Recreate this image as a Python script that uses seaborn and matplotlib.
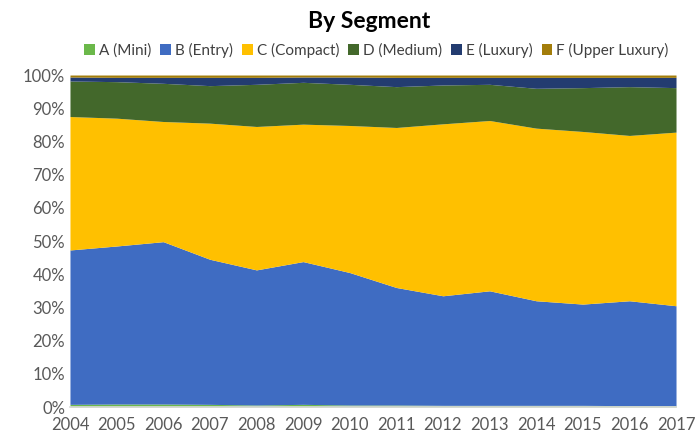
import seaborn as sns
import numpy as np
import pandas as pd
import matplotlib
matplotlib.use("Agg")
import matplotlib.pyplot as plt
from matplotlib.patches import Patch

years = list(range(2004, 2018))
segments = ["A (Mini)", "B (Entry)", "C (Compact)", "D (Medium)", "E (Luxury)", "F (Upper Luxury)"]

# shares in percent
a_mini = [0.8, 0.9, 0.9, 0.8, 0.6, 0.8, 0.6, 0.6, 0.5, 0.5, 0.5, 0.5, 0.4, 0.4]
b_entry = [46.5, 47.6, 48.9, 43.7, 40.7, 43.0, 39.9, 35.4, 33.0, 34.5, 31.5, 30.5, 31.6, 30.1]
c_compact = [40.2, 38.5, 36.2, 41.0, 43.2, 41.4, 44.3, 48.2, 51.8, 51.3, 52.0, 52.0, 49.8, 52.3]
d_medium = [10.7, 11.0, 11.5, 11.3, 12.7, 12.6, 12.4, 12.3, 11.7, 10.9, 12.0, 13.2, 14.7, 13.4]
e_luxury = [1.2, 1.3, 1.8, 2.5, 2.1, 1.6, 2.2, 2.8, 2.3, 2.1, 3.3, 3.1, 2.8, 3.1]
f_upper = [0.6, 0.7, 0.7, 0.7, 0.7, 0.6, 0.6, 0.7, 0.7, 0.7, 0.7, 0.7, 0.7, 0.7]

colors = ["#6bb84a", "#3f6cc2", "#ffc000", "#43682b", "#233c70", "#a37d0a"]

df = pd.DataFrame({"year": years, segments[0]: a_mini, segments[1]: b_entry,
                   segments[2]: c_compact, segments[3]: d_medium,
                   segments[4]: e_luxury, segments[5]: f_upper})
vals = df[segments].values
vals = vals / vals.sum(axis=1, keepdims=True) * 100

sns.set_theme(style="white")
plt.rcParams['font.family'] = ['Lato', 'DejaVu Sans']

fig = plt.figure(figsize=(6.97, 4.4), dpi=100)
ax = fig.add_axes([0.1004, 0.075, 0.8695, 0.7545])

ax.stackplot(df["year"], vals.T, colors=colors, linewidth=0)

ax.set_xlim(2004, 2017)
ax.set_ylim(0, 100)
ax.set_yticks(np.arange(0, 101, 10))
ax.set_yticklabels(["{0}%".format(v) for v in range(0, 101, 10)])
ax.set_xticks(years)
ax.tick_params(axis="both", labelsize=12, colors="#595959", length=0)
ax.tick_params(axis="x", length=5, color="#d9d9d9", width=1, pad=2)

for side in ["left", "right", "top"]:
    ax.spines[side].set_visible(False)
ax.spines["bottom"].set_color("#d9d9d9")

handles = [Patch(facecolor=c, edgecolor="none") for c in colors]
fig.legend(handles, segments, loc="center", bbox_to_anchor=(0.54, 0.885), ncol=6,
           frameon=False, fontsize=11, handlelength=0.7, handleheight=0.7,
           handletextpad=0.25, columnspacing=0.6, labelcolor="#404040")

fig.text(0.53, 0.95, "By Segment", ha="center", va="center",
         fontsize=16.5, fontweight="bold", color="black")

fig.savefig("out.png", dpi=100)
